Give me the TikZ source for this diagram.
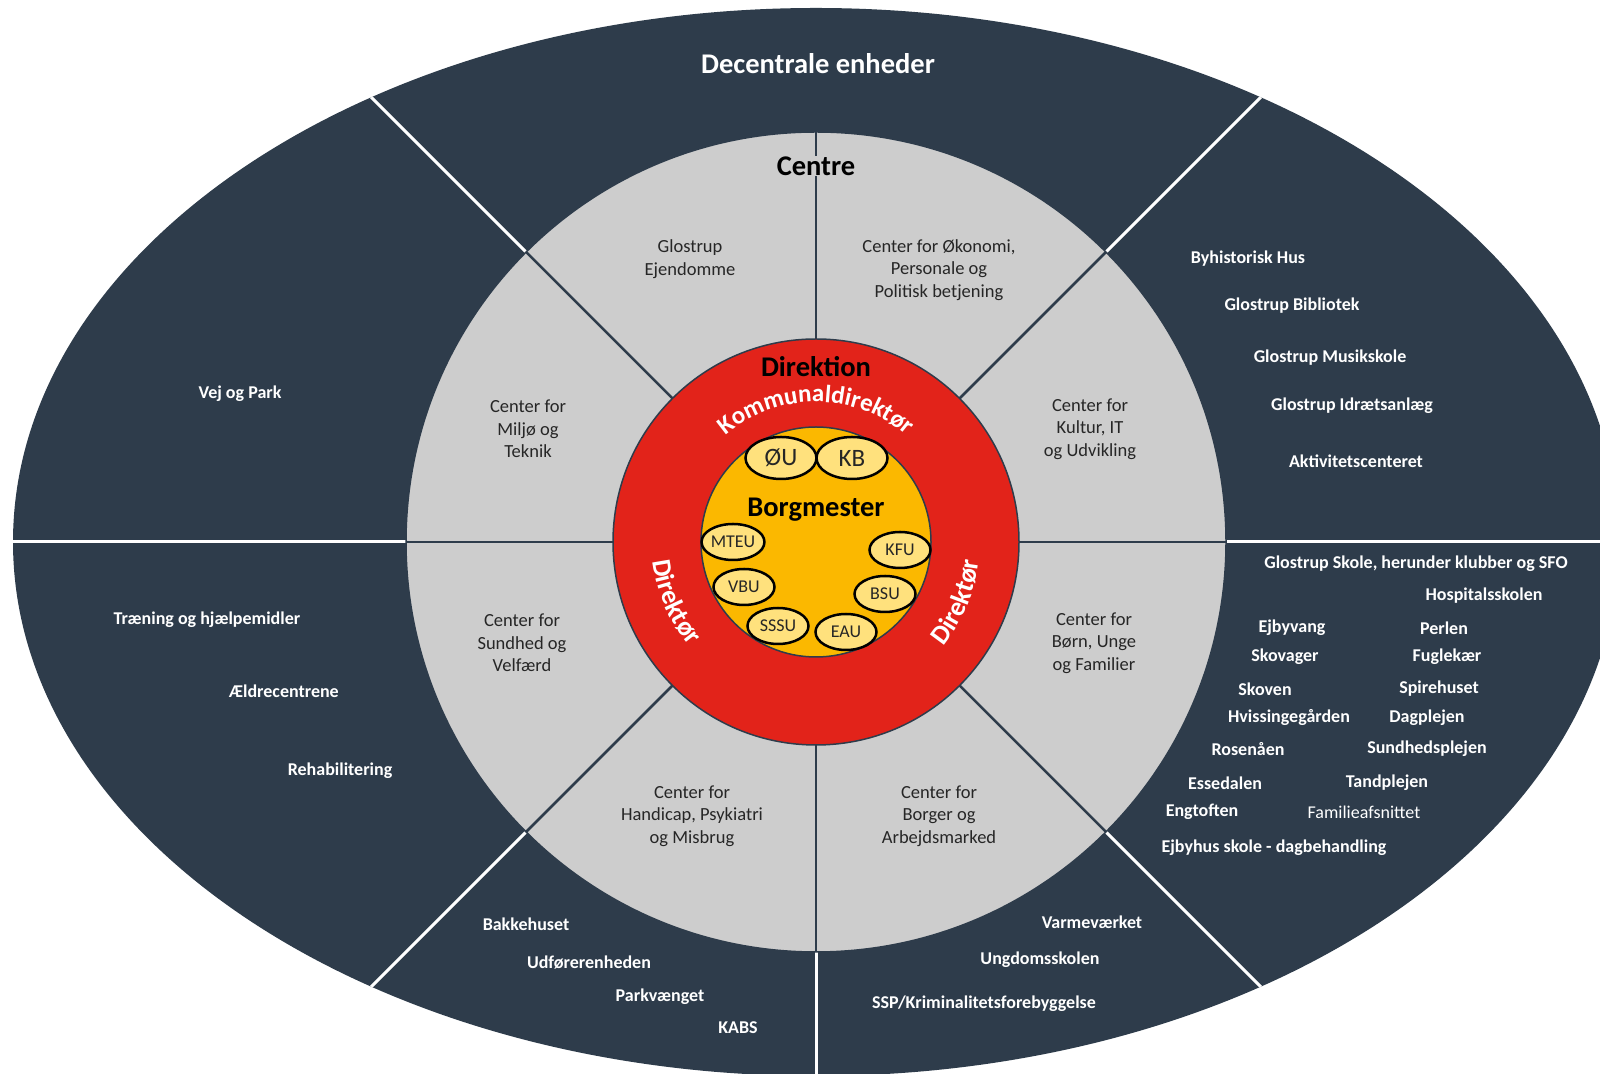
\documentclass[tikz,border=0pt]{standalone}
\usepackage{fontspec}
\setmainfont{Carlito}
\usetikzlibrary{shapes.geometric,decorations.text}
\definecolor{darkring}{HTML}{2E3C4B}
\definecolor{greyring}{HTML}{CDCDCD}
\definecolor{redring}{HTML}{E2231A}
\definecolor{goldring}{HTML}{FBB800}
\definecolor{pillfill}{HTML}{FFE17D}
\newcommand\kdfont{\bfseries\fontsize{25}{25}\selectfont\color{white}}
\newcommand\dirfont{\bfseries\fontsize{27}{27}\selectfont\color{white}}
\tikzset{
  outtxt/.style={text=white, font=\bfseries\fontsize{18}{22}\selectfont, inner sep=0pt},
  outthin/.style={text=white, font=\fontsize{18}{22}\selectfont, inner sep=0pt},
  centxt/.style={text=black!85, font=\fontsize{18.5}{22.5}\selectfont, align=center, inner sep=0pt},
  title/.style={font=\bfseries\fontsize{28.5}{30}\selectfont, inner sep=1pt},
  pill/.style={ellipse, fill=pillfill, draw=black, line width=2.5pt, inner sep=0pt,
    minimum width=61pt, minimum height=36pt, text=black!85, font=\fontsize{18}{18}\selectfont},
  bigpill/.style={pill, minimum width=71pt, minimum height=42pt, font=\fontsize{25}{25}\selectfont},
  whitediv/.style={white, line width=3pt},
  darkdiv/.style={darkring, line width=2.5pt},
  ringedge/.style={draw=darkring, line width=1.5pt}
}
\begin{document}
\begin{tikzpicture}[x=1pt,y=1pt]
\useasboundingbox (0,0) rectangle (1600,1073);
\fill[white] (0,0) rectangle (1600,1073);
\coordinate (C) at (816,531);
% outer ring
\begin{scope}
  \clip (0,0) rectangle (1600,1073);
  \fill[darkring] (C) ellipse[x radius=803, y radius=534];
  \clip (C) ellipse[x radius=803, y radius=534];
  \foreach \a in {0,45,135,180,225,270,315}
    \draw[whitediv] (C) ++(\a:405) -- ++(\a:700);
\end{scope}
% centre ring
\filldraw[fill=greyring, ringedge] (C) circle[radius=410];
\foreach \a in {0,45,...,315}
  \draw[darkdiv] (C) ++(\a:203) -- ++(\a:207);
% direktion ring
\filldraw[fill=redring, ringedge] (C) circle[radius=203];
\filldraw[fill=goldring, ringedge] (C) circle[radius=115];
% arc texts
\path[decorate, decoration={text along path, text align=center,
  text={|\kdfont|Kommunaldirektør}}]
  (C) ++(180:140) arc[start angle=180, end angle=0, radius=140];
\path[decorate, decoration={text along path, text align=center,
  text={|\dirfont|Direktør}}]
  (C) ++(143:164) arc[start angle=143, end angle=263, radius=164];
\path[decorate, decoration={text along path, text align=center,
  text={|\dirfont|Direktør}}]
  (C) ++(277:164) arc[start angle=277, end angle=397, radius=164];
% titles
\node[title, text=white] (dec) at (818,1009) {Decentrale enheder};
\node[title, fill=greyring] (centre) at (816,907) {Centre};
\node[title] (direktion) at (816,706) {Direktion};
\node[title] (borg) at (816,563) {Borgmester};
% committees
\node[bigpill] (OU) at (781,615) {ØU};
\node[bigpill] (KB) at (852,615) {KB};
\node[pill] (MTEU) at (733,531) {MTEU};
\node[pill] (VBU) at (744,486) {VBU};
\node[pill] (SSSU) at (778,447) {SSSU};
\node[pill] (EAU) at (846,441) {EAU};
\node[pill] (BSU) at (885,479) {BSU};
\node[pill] (KFU) at (900,523) {KFU};
% centres
\node[centxt] (c1) at (690,814) {Glostrup\\Ejendomme};
\node[centxt] (c2) at (939,803) {Center for Økonomi,\\Personale og\\Politisk betjening};
\node[centxt] (c3) at (528,644) {Center for\\Miljø og\\Teknik};
\node[centxt] (c4) at (1090,644) {Center for\\Kultur, IT\\og Udvikling};
\node[centxt] (c5) at (522,430) {Center for\\Sundhed og\\Velfærd};
\node[centxt] (c6) at (1094,430) {Center for\\Børn, Unge\\og Familier};
\node[centxt] (c7) at (692,257) {Center for\\Handicap, Psykiatri\\og Misbrug};
\node[centxt] (c8) at (939,257) {Center for\\Borger og\\Arbejdsmarked};
% decentral units
\node[outtxt] (u1) at (240,679) {Vej og Park};
\node[outtxt] (u2) at (1248,814) {Byhistorisk Hus};
\node[outtxt] (u3) at (1292,767) {Glostrup Bibliotek};
\node[outtxt] (u4) at (1330,715) {Glostrup Musikskole};
\node[outtxt] (u5) at (1352,667) {Glostrup Idrætsanlæg};
\node[outtxt] (u6) at (1356,612) {Aktivitetscenteret};
\node[outtxt] (u7) at (207,453) {Træning og hjælpemidler};
\node[outtxt] (u8) at (284,382) {Ældrecentrene};
\node[outtxt] (u9) at (340,302) {Rehabilitering};
\node[outtxt] (u10) at (526,149) {Bakkehuset};
\node[outtxt] (u11) at (589,110) {Udførerenheden};
\node[outtxt] (u12) at (660,76) {Parkvænget};
\node[outtxt] (u13) at (738,45) {KABS};
\node[outtxt] (u14) at (1092,151) {Varmeværket};
\node[outtxt] (u15) at (1040,113) {Ungdomsskolen};
\node[outtxt] (u16) at (984,69) {SSP/Kriminalitetsforebyggelse};
\node[outtxt] (u17) at (1416,509) {Glostrup Skole, herunder klubber og SFO};
\node[outtxt] (u18) at (1484,477) {Hospitalsskolen};
\node[outtxt] (u19) at (1292,445) {Ejbyvang};
\node[outtxt] (u20) at (1444,445) {Perlen};
\node[outtxt] (u21) at (1285,416) {Skovager};
\node[outtxt] (u22) at (1447,416) {Fuglekær};
\node[outtxt] (u23) at (1265,384) {Skoven};
\node[outtxt] (u24) at (1439,384) {Spirehuset};
\node[outtxt] (u25) at (1289,355) {Hvissingegården};
\node[outtxt] (u26) at (1427,355) {Dagplejen};
\node[outtxt] (u27) at (1248,324) {Rosenåen};
\node[outtxt] (u28) at (1427,324) {Sundhedsplejen};
\node[outtxt] (u29) at (1225,290) {Essedalen};
\node[outtxt] (u30) at (1387,290) {Tandplejen};
\node[outtxt] (u31) at (1202,261) {Engtoften};
\node[outthin] (u32) at (1364,261) {Familieafsnittet};
\node[outtxt] (u33) at (1274,225) {Ejbyhus skole - dagbehandling};
\end{tikzpicture}
\end{document}
